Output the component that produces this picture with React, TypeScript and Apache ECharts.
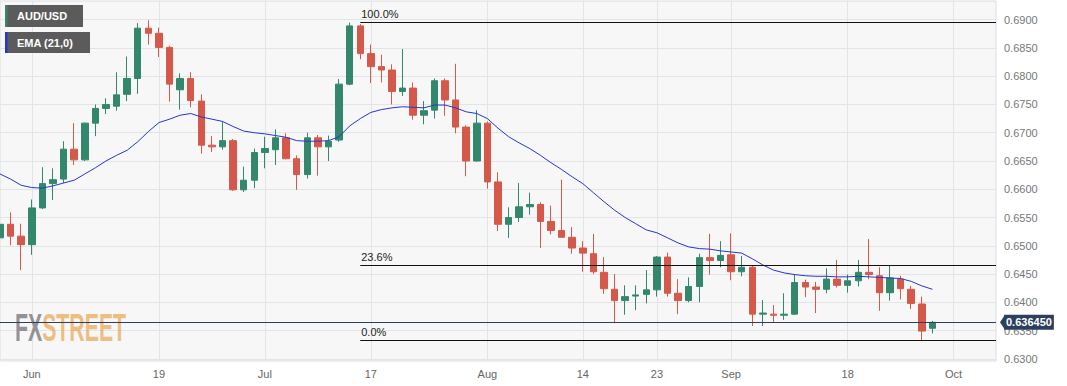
import React, { useEffect, useRef } from "react";
import * as echarts from "echarts";

// ---- Data ----
const tradingDays: Record<string, number[]> = {
  "2023-05": [29, 30, 31],
  "2023-06": [1, 2, 5, 6, 7, 8, 9, 12, 13, 14, 15, 16, 19, 20, 21, 22, 23, 26, 27, 28, 29, 30],
  "2023-07": [3, 4, 5, 6, 7, 10, 11, 12, 13, 14, 17, 18, 19, 20, 21, 24, 25, 26, 27, 28, 31],
  "2023-08": [1, 2, 3, 4, 7, 8, 9, 10, 11, 14, 15, 16, 17, 18, 21, 22, 23, 24, 25, 28, 29, 30, 31],
  "2023-09": [1, 4, 5, 6, 7, 8, 11, 12, 13, 14, 15, 18, 19, 20, 21, 22, 25, 26, 27, 28, 29],
  "2023-10": [2, 3, 4, 5, 6],
};

const opens = [
  0.6514, 0.6538, 0.6517, 0.6502, 0.6567, 0.6610, 0.6618, 0.6671, 0.6652, 0.6717,
  0.6743, 0.6747, 0.6768, 0.6796, 0.6885, 0.6876, 0.6851, 0.6776, 0.6796, 0.6756,
  0.6678, 0.6675, 0.6686, 0.6599, 0.6616, 0.6665, 0.6670, 0.6691, 0.6654, 0.6626,
  0.6691, 0.6675, 0.6687, 0.6786, 0.6889, 0.6840, 0.6817, 0.6811, 0.6773, 0.6779,
  0.6731, 0.6740, 0.6792, 0.6758, 0.6710, 0.6650, 0.6717, 0.6613, 0.6538, 0.6550,
  0.6569, 0.6573, 0.6543, 0.6527, 0.6515, 0.6496, 0.6486, 0.6453, 0.6423, 0.6403,
  0.6411, 0.6414, 0.6422, 0.6480, 0.6416, 0.6403, 0.6428, 0.6479, 0.6474, 0.6484,
  0.6454, 0.6462, 0.6379, 0.6379, 0.6377, 0.6379, 0.6435, 0.6427, 0.6423, 0.6441,
  0.6430, 0.6438, 0.6453, 0.6447, 0.6417, 0.6441, 0.6423, 0.6397, 0.6354,
];
const highs = [
  0.6552, 0.6559, 0.6539, 0.6582, 0.6639, 0.6637, 0.6685, 0.6717, 0.6718, 0.6750,
  0.6761, 0.6807, 0.6835, 0.6894, 0.6899, 0.6886, 0.6854, 0.6805, 0.6807, 0.6768,
  0.6694, 0.6720, 0.6689, 0.6640, 0.6672, 0.6693, 0.6706, 0.6699, 0.6660, 0.6700,
  0.6696, 0.6695, 0.6795, 0.6895, 0.6892, 0.6856, 0.6838, 0.6821, 0.6848, 0.6789,
  0.6756, 0.6796, 0.6796, 0.6822, 0.6713, 0.6740, 0.6720, 0.6630, 0.6568, 0.6611,
  0.6594, 0.6577, 0.6571, 0.6617, 0.6533, 0.6508, 0.6521, 0.6480, 0.6450, 0.6430,
  0.6430, 0.6457, 0.6482, 0.6488, 0.6441, 0.6444, 0.6486, 0.6521, 0.6508, 0.6522,
  0.6482, 0.6465, 0.6404, 0.6395, 0.6416, 0.6450, 0.6440, 0.6436, 0.6460, 0.6475,
  0.6449, 0.6475, 0.6512, 0.6462, 0.6465, 0.6447, 0.6429, 0.6410, 0.6367,
];
const lows = [
  0.6510, 0.6501, 0.6457, 0.6484, 0.6565, 0.6581, 0.6611, 0.6643, 0.6650, 0.6694,
  0.6733, 0.6739, 0.6756, 0.6769, 0.6856, 0.6834, 0.6755, 0.6741, 0.6745, 0.6663,
  0.6666, 0.6670, 0.6597, 0.6595, 0.6602, 0.6637, 0.6643, 0.6653, 0.6599, 0.6619,
  0.6624, 0.6650, 0.6684, 0.6784, 0.6830, 0.6788, 0.6789, 0.6750, 0.6765, 0.6723,
  0.6715, 0.6725, 0.6730, 0.6699, 0.6623, 0.6649, 0.6601, 0.6526, 0.6514, 0.6542,
  0.6555, 0.6496, 0.6520, 0.6515, 0.6486, 0.6454, 0.6450, 0.6415, 0.6363, 0.6378,
  0.6386, 0.6398, 0.6410, 0.6410, 0.6379, 0.6400, 0.6400, 0.6449, 0.6462, 0.6439,
  0.6446, 0.6358, 0.6358, 0.6364, 0.6369, 0.6378, 0.6409, 0.6381, 0.6416, 0.6426,
  0.6417, 0.6428, 0.6441, 0.6385, 0.6403, 0.6405, 0.6388, 0.6332, 0.6345,
];
const closes = [
  0.6538, 0.6517, 0.6502, 0.6567, 0.6610, 0.6617, 0.6671, 0.6652, 0.6717, 0.6743,
  0.6750, 0.6767, 0.6796, 0.6885, 0.6876, 0.6851, 0.6786, 0.6796, 0.6757, 0.6678,
  0.6675, 0.6686, 0.6599, 0.6616, 0.6665, 0.6672, 0.6691, 0.6654, 0.6626, 0.6691,
  0.6675, 0.6685, 0.6786, 0.6889, 0.6840, 0.6817, 0.6811, 0.6773, 0.6779, 0.6731,
  0.6739, 0.6792, 0.6758, 0.6710, 0.6650, 0.6717, 0.6613, 0.6538, 0.6550, 0.6569,
  0.6573, 0.6543, 0.6527, 0.6515, 0.6496, 0.6487, 0.6454, 0.6424, 0.6403, 0.6410,
  0.6413, 0.6422, 0.6480, 0.6416, 0.6403, 0.6428, 0.6479, 0.6474, 0.6483, 0.6454,
  0.6462, 0.6379, 0.6381, 0.6377, 0.6379, 0.6435, 0.6427, 0.6423, 0.6441, 0.6430,
  0.6438, 0.6453, 0.6449, 0.6417, 0.6443, 0.6424, 0.6398, 0.6349, 0.63645,
];
const ema21 = [
  0.6627, 0.6618, 0.6607, 0.6603, 0.6602, 0.6606, 0.6611, 0.6616, 0.6627, 0.6638,
  0.6650, 0.6660, 0.6669, 0.6684, 0.6702, 0.6718, 0.6724, 0.6731, 0.6734, 0.6728,
  0.6724, 0.6720, 0.6711, 0.6703, 0.6700, 0.6698, 0.6695, 0.6692, 0.6686, 0.6685,
  0.6685, 0.6686, 0.6693, 0.6712, 0.6725, 0.6736, 0.6741, 0.6744, 0.6746, 0.6745,
  0.6744, 0.6749, 0.6749, 0.6744, 0.6737, 0.6734, 0.6725, 0.6708, 0.6693, 0.6682,
  0.6672, 0.6660, 0.6647, 0.6635, 0.6622, 0.6610, 0.6594, 0.6578, 0.6563, 0.6550,
  0.6539, 0.6528, 0.6523, 0.6514, 0.6505, 0.6498, 0.6495, 0.6494, 0.6491, 0.6489,
  0.6487, 0.6477, 0.6466, 0.6457, 0.6452, 0.6449, 0.6447, 0.6446, 0.6446, 0.6445,
  0.6445, 0.6446, 0.6445, 0.6444, 0.6443, 0.6442, 0.6437, 0.6429, 0.6423,
];

const xTickLabels: Record<string, string> = {
  "2023-06-01": "Jun",
  "2023-06-19": "19",
  "2023-07-03": "Jul",
  "2023-07-17": "17",
  "2023-08-01": "Aug",
  "2023-08-14": "14",
  "2023-08-23": "23",
  "2023-09-01": "Sep",
  "2023-09-18": "18",
  "2023-10-02": "Oct",
};
const yTickValues = [0.63, 0.635, 0.64, 0.645, 0.65, 0.655, 0.66, 0.665, 0.67, 0.675, 0.68, 0.685, 0.69];

const fibLabels = ["100.0%", "23.6%", "0.0%"];
const fibValues = [0.6895, 0.6465, 0.6332];
const fibStartDate = "2023-07-14";
const currentPrice = 0.63645;
const currentPriceText = "0.636450";

const GREEN = "#32876c";
const RED = "#d5594a";
const BLUE = "#2636d2";
const NAVY = "#2c3f5e";

export default function App() {
  const ref = useRef<HTMLDivElement>(null);

  useEffect(() => {
    if (!ref.current) return;
    const chart = echarts.init(ref.current, undefined, { renderer: "svg" });

    const dates: string[] = [];
    Object.keys(tradingDays).forEach((m) => {
      tradingDays[m].forEach((d) => dates.push(`${m}-${String(d).padStart(2, "0")}`));
    });
    const lastDate = dates[dates.length - 1];

    const candleData = opens.map((o, i) => [o, closes[i], lows[i], highs[i]]);

    const isTick = (_i: number, v: string) => v in xTickLabels;

    const fibLines = fibValues.map((v, i) => [
      {
        coord: [fibStartDate, v],
        lineStyle: { color: "#111", width: 1.2, type: "solid" },
        label: {
          show: true,
          position: "insideStartTop",
          formatter: fibLabels[i],
          color: "#222",
          fontSize: 11,
          fontFamily: "Liberation Sans, Arial, sans-serif",
          distance: [1, 3],
        },
      },
      { coord: [lastDate, v] },
    ]);

    chart.setOption({
      animation: false,
      backgroundColor: "#ffffff",
      grid: {
        left: 0,
        right: 71,
        top: 1,
        bottom: 25,
        show: true,
        backgroundColor: "#f7f7f7",
        borderColor: "#dadde2",
        borderWidth: 1,
      },
      xAxis: {
        type: "category",
        data: dates,
        boundaryGap: false,
        axisLine: { show: false },
        axisTick: { show: false },
        axisLabel: {
          interval: isTick,
          formatter: (v: string) => xTickLabels[v] || "",
          color: "#666",
          fontSize: 11,
          fontFamily: "Liberation Sans, Arial, sans-serif",
          margin: 7,
        },
        splitLine: {
          show: true,
          interval: isTick,
          lineStyle: { color: "#e2e4e8", width: 1 },
        },
      },
      yAxis: {
        type: "value",
        position: "right",
        min: 0.62961,
        max: 0.69331,
        scale: true,
        axisLine: { show: false },
        axisTick: { show: false, customValues: yTickValues },
        axisLabel: {
          customValues: yTickValues,
          formatter: (v: number) => v.toFixed(4),
          color: "#777",
          fontSize: 11,
          fontFamily: "Liberation Sans, Arial, sans-serif",
          margin: 8,
        },
        splitLine: { show: true, lineStyle: { color: "#e2e4e8", width: 1 } },
      },
      graphic: [
        {
          type: "text",
          z: 1,
          left: 15,
          top: 309,
          scaleX: 0.56,
          style: {
            text: "{fx|FX}{st|STREET}",
            rich: {
              fx: { fill: "rgba(120,120,125,0.8)", fontSize: 38, fontWeight: "bold", fontFamily: "Liberation Sans, Arial" },
              st: { fill: "rgba(236,170,90,0.75)", fontSize: 38, fontWeight: "bold", fontFamily: "Liberation Sans, Arial" },
            },
          },
        },
        { type: "rect", z: 20, shape: { x: 5, y: 5, width: 78, height: 22 }, style: { fill: "#5b5b5b" } },
        { type: "rect", z: 21, shape: { x: 5, y: 5, width: 2.5, height: 22 }, style: { fill: GREEN } },
        {
          type: "text",
          z: 21,
          x: 17,
          y: 16,
          style: { text: "AUD/USD", fill: "#fff", font: "bold 11px Liberation Sans, Arial", verticalAlign: "middle" },
        },
        { type: "rect", z: 20, shape: { x: 5, y: 32, width: 85, height: 21 }, style: { fill: "#5b5b5b" } },
        { type: "rect", z: 21, shape: { x: 5, y: 32, width: 2.5, height: 21 }, style: { fill: BLUE } },
        {
          type: "text",
          z: 21,
          x: 17,
          y: 43,
          style: { text: "EMA (21,0)", fill: "#fff", font: "bold 11px Liberation Sans, Arial", verticalAlign: "middle" },
        },
      ],
      series: [
        {
          type: "candlestick",
          data: candleData,
          barWidth: 7,
          itemStyle: {
            color: GREEN,
            color0: RED,
            borderColor: GREEN,
            borderColor0: RED,
            borderWidth: 1,
          },
        },
        {
          type: "line",
          data: ema21,
          showSymbol: false,
          symbol: "none",
          clip: false,
          lineStyle: { color: BLUE, width: 1 },
          z: 3,
          markLine: {
            silent: true,
            symbol: ["none", "none"],
            precision: 6,
            animation: false,
            data: [
              ...fibLines,
              {
                yAxis: currentPrice,
                lineStyle: { color: NAVY, width: 1.2, type: "solid" },
                label: {
                  show: true,
                  position: "end",
                  formatter: currentPriceText,
                  color: "#fff",
                  fontWeight: "bold",
                  fontSize: 11,
                  fontFamily: "Liberation Sans, Arial, sans-serif",
                  backgroundColor: NAVY,
                  padding: [2, 2, 2, 2],
                  distance: 8,
                },
              },
            ],
          },
          markPoint: {
            silent: true,
            animation: false,
            data: [
              {
                coord: [lastDate, currentPrice],
                symbol: "triangle",
                symbolSize: [15, 5],
                symbolRotate: 90,
                symbolOffset: [6.5, 0],
                itemStyle: { color: NAVY },
                label: { show: false },
              },
            ],
          },
        },
      ],
    });

    return () => chart.dispose();
  }, []);

  return (
    <div
      ref={ref}
      style={{ position: "fixed", left: 0, top: 0, width: 1067, height: 386 }}
    />
  );
}
